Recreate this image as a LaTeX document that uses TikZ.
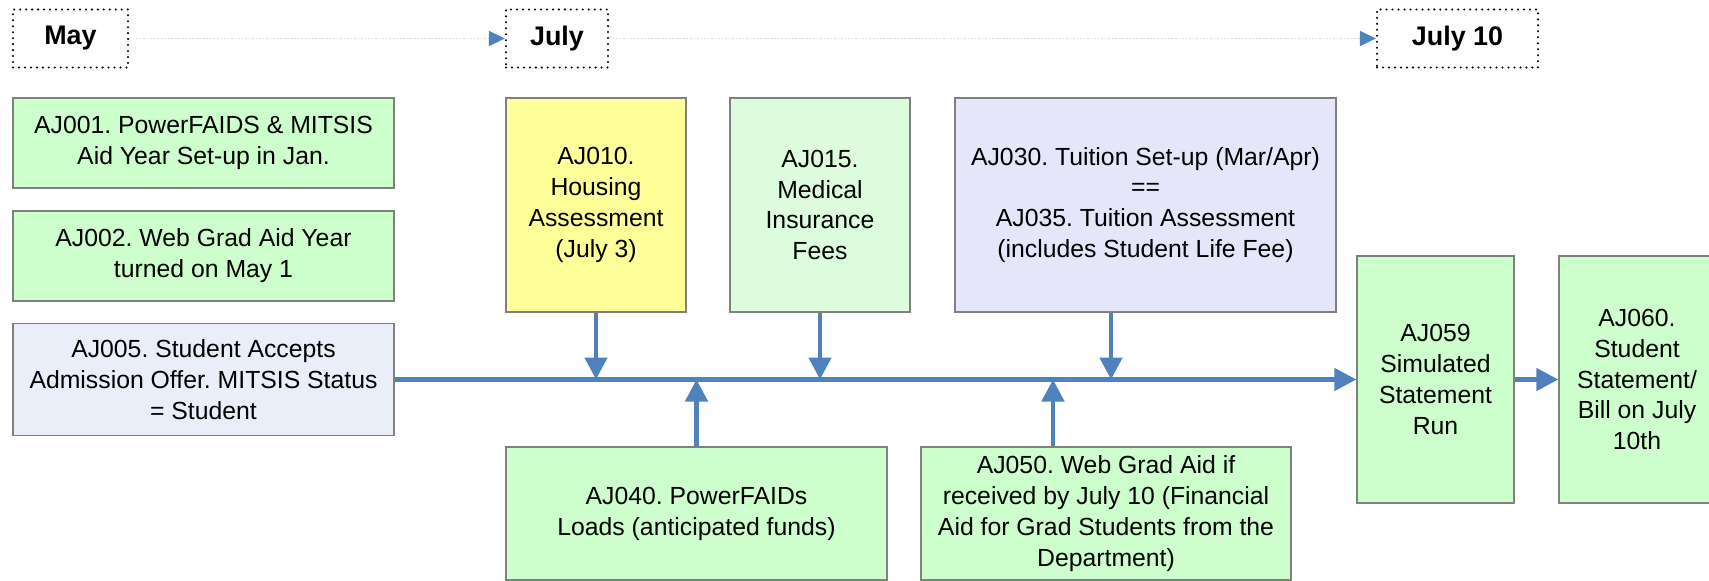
\documentclass[tikz,border=0pt]{standalone}
\usepackage{fontspec}
\setmainfont{Liberation Sans}
\usetikzlibrary{arrows.meta}
\frenchspacing

\definecolor{flowblue}{RGB}{79,129,189}
\definecolor{boxgreen}{RGB}{204,255,204}
\definecolor{palegreen}{RGB}{221,251,221}
\definecolor{boxyellow}{RGB}{255,255,153}
\definecolor{boxblue}{RGB}{233,238,249}
\definecolor{boxlilac}{RGB}{230,230,250}
\definecolor{boxedge}{RGB}{128,128,128}

\tikzset{>={Triangle[length=4.4mm,width=4.4mm]}}
\tikzset{
  task/.style={draw=boxedge,line width=0.7pt,align=center,inner sep=0pt,
    font=\fontsize{14.1}{17.6}\selectfont},
  month/.style={draw,line width=1.3pt,dash pattern=on 0pt off 3.4pt,line cap=round,
    minimum height=1.16cm,font=\fontsize{15.3}{18}\selectfont\bfseries},
  flow/.style={draw=flowblue,line width=2.6pt},
  timeline/.style={draw=gray!30,line width=1pt,densely dotted,
    -{Triangle[length=3.2mm,width=3mm,color=flowblue]}},
}

\begin{document}
\begin{tikzpicture}
  \useasboundingbox (0,0) rectangle (34.18,-11.6);
  \clip (0,0) rectangle (34.18,-11.6);

  % months
  \node[month,minimum width=2.30cm] (may)    at (1.41,-0.77)  {May};
  \node[month,minimum width=2.04cm] (july)   at (11.14,-0.77) {July};
  \node[month,minimum width=3.22cm] (july10) at (29.15,-0.77) {July 10};
  \draw[timeline] (may) -- (july);
  \draw[timeline] (july) -- (july10);

  % left column
  \node[task,fill=boxgreen,minimum width=7.62cm,minimum height=1.8cm] (aj001) at (4.07,-2.86)
    {AJ001. PowerFAIDS \& MITSIS\\Aid Year Set-up in Jan.};
  \node[task,fill=boxgreen,minimum width=7.62cm,minimum height=1.8cm] (aj002) at (4.07,-5.12)
    {AJ002. Web Grad Aid Year\\turned on May 1};
  \node[task,fill=boxblue,minimum width=7.62cm,minimum height=2.24cm] (aj005) at (4.07,-7.59)
    {AJ005. Student Accepts\\Admission Offer. MITSIS Status\\= Student};

  % charges
  \node[task,fill=boxyellow,minimum width=3.6cm,minimum height=4.28cm] (aj010) at (11.92,-4.10)
    {AJ010.\\Housing\\Assessment\\(July 3)};
  \node[task,fill=palegreen,minimum width=3.6cm,minimum height=4.28cm] (aj015) at (16.40,-4.10)
    {AJ015.\\Medical\\Insurance\\Fees};
  \node[task,fill=boxlilac,minimum width=7.62cm,minimum height=4.28cm] (aj030) at (22.91,-4.10)
    {AJ030. Tuition Set-up (Mar/Apr)\\==\\AJ035. Tuition Assessment\\(includes Student Life Fee)};

  % aid
  \node[task,fill=boxgreen,minimum width=7.62cm,minimum height=2.66cm] (aj040) at (13.93,-10.27)
    {AJ040. PowerFAIDs\\Loads (anticipated funds)};
  \node[task,fill=boxgreen,minimum width=7.40cm,minimum height=2.66cm] (aj050) at (22.12,-10.27)
    {AJ050. Web Grad Aid if\\received by July 10 (Financial\\Aid for Grad Students from the\\Department)};

  % statements
  \node[task,fill=boxgreen,minimum width=3.14cm,minimum height=4.94cm] (aj059) at (28.71,-7.59)
    {AJ059\\Simulated\\Statement\\Run};
  \node[task,fill=boxgreen,minimum width=3.12cm,minimum height=4.94cm] (aj060) at (32.74,-7.59)
    {AJ060.\\Student\\Statement/\\Bill on July\\10th};

  \draw[flow,->] (aj005.east) -- (aj059.west);
  \draw[flow,->] (aj059.east) -- (aj060.west);
  \draw[flow,->] (aj010.south) -- (aj010.south |- aj005.east);
  \draw[flow,->] (aj015.south) -- (aj015.south |- aj005.east);
  \draw[flow,->] ([xshift=-0.69cm]aj030.south) -- ([xshift=-0.69cm]aj030.south |- aj005.east);
  \draw[flow,->] (aj040.north) -- (aj040.north |- aj005.east);
  \draw[flow,->] ([xshift=-1.06cm]aj050.north) -- ([xshift=-1.06cm]aj050.north |- aj005.east);
\end{tikzpicture}
\end{document}
